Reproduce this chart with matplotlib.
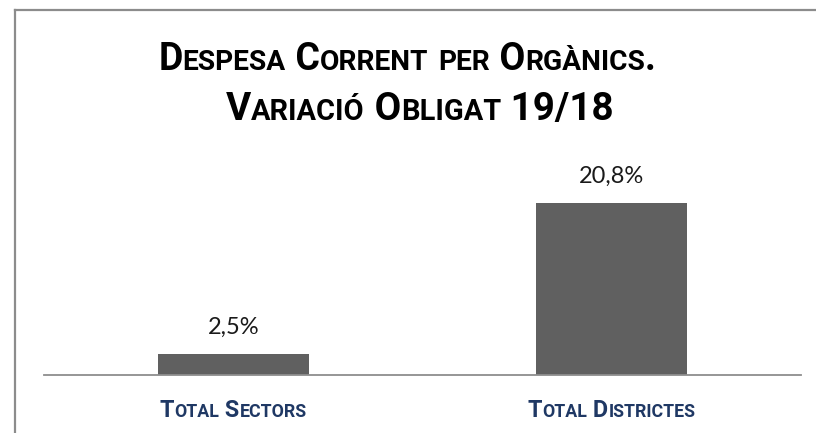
import matplotlib
matplotlib.use("Agg")
import matplotlib.pyplot as plt
from matplotlib.offsetbox import TextArea, HPacker, AnnotationBbox
from matplotlib.lines import Line2D

# dades
categories = ["Total Sectors", "Total Districtes"]
values = [2.5, 20.8]
value_labels = ["2,5%", "20,8%"]
title_lines = ["Despesa Corrent per Orgànics.", "Variació Obligat 19/18"]

FONT = ["Lato", "DejaVu Sans"]
TITLE_FONT = ["Roboto", "DejaVu Sans"]
DPI = 100


def small_caps(text, size, color="black", weight="bold", ratio=0.78, family=FONT):
    # versaletes: minúscules en majúscula i més petites
    runs = []
    for ch in text:
        small = ch.islower()
        if runs and runs[-1][1] == small:
            runs[-1][0] += ch
        else:
            runs.append([ch, small])
    boxes = []
    for s, small in runs:
        fs = size * ratio if small else size
        boxes.append(TextArea(s.upper(), textprops=dict(fontsize=fs, color=color,
                                                        fontweight=weight, family=family)))
    return HPacker(children=boxes, align="baseline", pad=0, sep=0)


def px(v):
    return v * 72 / DPI


fig = plt.figure(figsize=(8.16, 4.33), dpi=DPI)

# marc del gràfic (només es veuen la vora superior i l'esquerra)
fx, fy = 15.5 / 816, (433 - 10) / 433
fig.add_artist(Line2D([fx, 1.0], [fy, fy], transform=fig.transFigure, color="#8c8c8c", lw=1.6))
fig.add_artist(Line2D([fx, fx], [0, fy], transform=fig.transFigure, color="#8c8c8c", lw=1.6))

base_y = 374.5
top_y = 150
ax = fig.add_axes([44 / 816, (433 - base_y) / 433, (801 - 44) / 816, (base_y - top_y) / 433])
ax.bar(range(len(values)), values, width=0.4, color="#606060")
ax.set_xlim(-0.5, 1.5)
ax.set_ylim(0, (base_y - top_y) / ((base_y - 203) / values[1]))
for s in ["top", "right", "left"]:
    ax.spines[s].set_visible(False)
ax.spines["bottom"].set_color("#8e8e8e")
ax.spines["bottom"].set_linewidth(1.3)
ax.set_yticks([])
ax.set_xticks([])
ax.patch.set_alpha(0)

for i, (v, lab) in enumerate(zip(values, value_labels)):
    ax.annotate(lab, (i, v), xytext=(0, px(20)), textcoords="offset points",
                ha="center", va="baseline", fontsize=17, family=FONT, color="#1a1a1a")

for i, cat in enumerate(categories):
    box = small_caps(cat, 16.8, color="#1F3864", ratio=0.76, family=TITLE_FONT)
    ab = AnnotationBbox(box, (i, 0), xycoords="data", xybox=(0, -px(36)),
                        boxcoords="offset points", frameon=False, box_alignment=(0.5, 0.5),
                        pad=0)
    ax.add_artist(ab)

for line, size, xc, yc in zip(title_lines, [27, 27.8], [407, 420], [59, 109]):
    box = small_caps(line, size, ratio=0.75, family=TITLE_FONT)
    ab = AnnotationBbox(box, (xc, 433 - yc), xycoords="figure pixels", frameon=False,
                        box_alignment=(0.5, 0.5), pad=0)
    fig.add_artist(ab)

fig.savefig("out.png", dpi=DPI)
